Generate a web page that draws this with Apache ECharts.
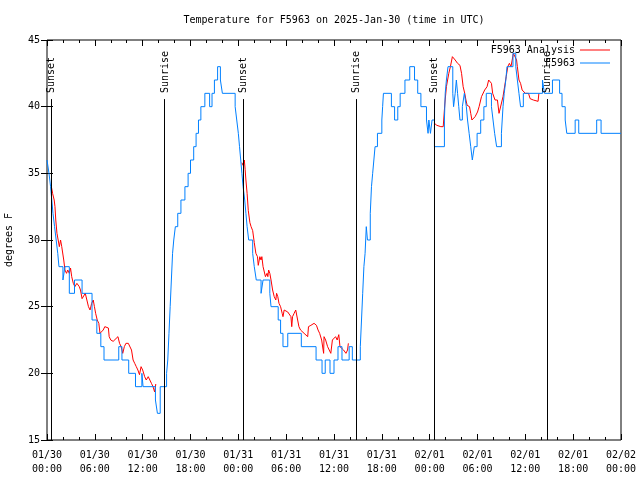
<!DOCTYPE html>
<html>
<head>
<meta charset="utf-8">
<script src="https://cdn.jsdelivr.net/npm/echarts@6/dist/echarts.min.js"></script>
<style>html,body{margin:0;padding:0;background:#fff}#c{width:640px;height:480px}</style>
</head>
<body>
<div id="c"></div>
<script>
// hours since 2025-01-30 00:00 UTC
const xTickLabels = ['01/30\n00:00','01/30\n06:00','01/30\n12:00','01/30\n18:00','01/31\n00:00','01/31\n06:00','01/31\n12:00','01/31\n18:00','02/01\n00:00','02/01\n06:00','02/01\n12:00','02/01\n18:00','02/02\n00:00'];
const yTicks = [15,20,25,30,35,40,45];

// F5963 observations (value changes at given hour)
const obsHours = [0,0.25,0.45,0.6,0.75,0.95,1.15,1.35,1.5,2.0,2.25,2.8,3.45,4.4,5.65,6.25,6.75,7.15,9.0,9.4,10.25,11.1,11.9,12.05,13.6,13.85,14.2,15.0,15.15,15.3,15.45,15.6,15.75,15.9,16.1,16.4,16.8,17.3,17.7,18.0,18.4,18.7,19.0,19.3,19.8,20.4,20.7,21.0,21.4,21.75,22.0,23.6,23.8,24.0,24.15,24.3,24.45,24.6,24.8,24.95,25.1,25.3,25.8,26.0,26.25,26.85,27.1,27.95,28.1,29.0,29.3,29.6,30.2,31.9,33.75,34.5,34.9,35.5,36.0,36.5,37.0,37.9,38.3,39.3,39.45,39.6,39.75,39.9,40.05,40.2,40.55,40.7,40.85,41.0,41.15,41.45,42.0,42.1,42.2,43.2,43.6,44.0,44.3,44.9,45.5,46.1,46.5,46.9,47.6,47.8,47.9,48.1,48.3,48.6,49.85,49.95,50.1,50.3,50.9,51.0,51.2,51.35,51.5,51.65,51.8,52.1,52.35,52.6,52.75,52.95,53.15,53.35,53.6,53.95,54.4,54.8,55.1,55.75,55.95,56.15,56.4,57.0,57.1,57.2,57.35,57.55,57.7,58.45,58.8,59.0,59.2,59.4,59.75,62.15,62.4,63.4,64.3,64.6,65.0,65.2,66.25,66.7,68.95,69.5,72];
const obsTemps = [36,35,34,33,32,31,30,29,28,27,28,26,27,26,24,23,22,21,22,21,20,19,20,19,18,17,19,20,21,23,25,27,29,30,31,32,33,34,35,36,37,38,39,40,41,40,41,42,43,42,41,40,39,38,37,36,35,34,33,32,31,30,29,28,27,26,27,26,25,24,23,22,23,22,21,20,21,20,21,22,21,22,21,22,24,26,28,29,31,30,32,34,35,36,37,38,39,40,41,40,39,40,41,42,43,42,41,40,39,38,39,38,39,37,39,41,42,43,41,40,41,42,41,40,39,40,41,40,39,38,37,36,37,38,39,40,41,40,39,38,37,38,39,40,41,42,43,44,43,42,41,40,41,42,41,42,41,40,39,38,39,38,39,38,38];

// F5963 Analysis, three segments
const anaHours1 = [0.55,0.7,0.9,1.0,1.1,1.25,1.4,1.55,1.7,1.85,2.1,2.25,2.45,2.6,2.8,2.95,3.1,3.3,3.5,3.75,3.9,4.05,4.2,4.4,4.6,4.8,5.0,5.2,5.4,5.6,5.8,5.95,6.1,6.3,6.5,6.65,6.85,7.05,7.25,7.5,7.7,7.8,8.0,8.3,8.55,8.9,9.1,9.3,9.5,9.7,9.9,10.2,10.4,10.6,10.8,11.0,11.2,11.4,11.6,11.8,12.0,12.25,12.45,12.7,12.9,13.1,13.3,13.5,13.65];
const anaTemps1 = [34,33.5,33,32.5,31.5,30.5,30,29.5,30,29.5,28.5,27.75,27.5,27.75,27.5,27.9,27.25,26.75,26.5,26.75,26.75,26.5,26.25,25.6,25.5,26,25.5,25,24.75,25.25,25.5,25,24.5,24,23.75,23,23,23.25,23.5,23.5,23.4,22.75,22.5,22.4,22.25,22.75,22.25,22,21.5,22,22.25,22.25,22.1,21.75,21,20.75,20.5,20.25,19.9,20.5,20.25,19.75,19.5,19.75,19.5,19.25,19,18.6,19.2];
const anaHours2 = [24.45,24.6,24.75,24.85,24.95,25.1,25.25,25.45,25.6,25.8,26.0,26.2,26.4,26.5,26.7,26.85,26.95,27.1,27.4,27.6,27.7,27.8,27.95,28.1,28.3,28.5,28.7,28.8,28.95,29.1,29.3,29.5,29.6,29.75,30.0,30.2,30.4,30.6,30.7,30.8,31.0,31.2,31.4,31.6,31.8,32.0,32.25,32.5,32.7,32.8,33.1,33.5,33.8,34.0,34.2,34.45,34.7,34.75,34.95,35.2,35.4,35.6,35.8,36.0,36.2,36.4,36.6,36.75,36.95,37.2,37.4,37.5,37.7,37.8];
const anaTemps2 = [35.8,35.6,36,35.3,34.5,33.5,32.2,31.3,31,30.7,29.8,29,28.75,28.1,28.75,28.5,28.75,28,27.25,27.5,27.25,27.75,27.5,27,26.25,25.75,25.5,26,25.75,25.25,25,24.5,24.25,24.75,24.75,24.6,24.5,24.25,23.5,24.25,24.5,24.75,24.9,23.5,23.25,23.1,23,22.9,22.75,23.5,23.6,23.75,23.6,23.25,23,22.5,21.5,22.75,22.5,22,21.75,21.5,22.5,22.6,22.75,22.5,22.9,22,22,21.75,21.6,21.5,21.75,22.25];
const anaHours3 = [48.6,48.9,49.4,49.7,49.9,50.1,50.4,50.6,50.85,51.0,51.2,51.4,51.5,51.6,51.8,52.0,52.2,52.4,52.55,52.7,53.0,53.15,53.3,53.5,53.7,54.0,54.2,54.5,54.9,55.2,55.4,55.6,55.75,55.9,56.2,56.5,56.7,56.9,57.2,57.6,57.8,58.0,58.2,58.35,58.5,58.7,58.9,59.0,59.2,59.4,59.6,60.0,60.4,60.6,60.8,61.0,61.6,61.7];
const anaTemps3 = [38.75,38.6,38.5,38.5,40.2,41.5,42.5,43,43.75,43.6,43.5,43.5,43.25,43.4,43.1,42.5,41.5,41,40.5,40.1,40,39.5,39,39,39.25,39.6,40,40.75,41.25,41.5,42,42,41.75,41,40.5,40.5,39.5,39.5,40.75,42.25,43,43.25,43,43.5,44,44,43.5,43,42,41.75,41.25,41,41,40.6,40.6,40.5,40.4,41];

// Sunrise / sunset events
const eventHours = [0.55,14.77,24.57,38.75,48.6,62.73];
const eventNames = ['Sunset','Sunrise','Sunset','Sunrise','Sunset','Sunrise'];

const FONT = 'DejaVu Sans Mono';
const zip = (a,b) => a.map((v,i)=>[v,b[i]]);
const anaData = [].concat(zip(anaHours1,anaTemps1), [[20,'-']], zip(anaHours2,anaTemps2), [[44,'-']], zip(anaHours3,anaTemps3));
const obsData = zip(obsHours, obsTemps);
const lineTop = 40.57;

const chart = echarts.init(document.getElementById('c'), null, {renderer:'canvas'});
const tickCommon = {show:true, inside:true, length:6, lineStyle:{color:'#000',width:1}};
const xBase = {type:'value', min:0, max:72, interval:6,
  axisLine:{show:false}, splitLine:{show:false},
  axisTick:tickCommon,
  minorTick:{show:true, splitNumber:3, length:3, lineStyle:{color:'#000',width:1}},
  minorSplitLine:{show:false}};
const yBase = {type:'value', min:15, max:45, interval:5,
  axisLine:{show:false}, splitLine:{show:false}, axisTick:tickCommon};

chart.setOption({
  animation:false,
  backgroundColor:'#fff',
  title:{text:'Temperature for F5963 on 2025-Jan-30 (time in UTC)', left:329, textAlign:'center', top:10,
    textStyle:{fontFamily:FONT, fontSize:10, fontWeight:'normal', color:'#000'}},
  grid:{left:47, right:19, top:40, bottom:40, show:true, borderColor:'#000', borderWidth:1,
    backgroundColor:'transparent', containLabel:false, outerBoundsMode:'none'},
  legend:[
    {data:['F5963 Analysis'], right:25, top:40, orient:'vertical', align:'right', icon:'rect', itemWidth:30, itemHeight:1,
     textStyle:{fontFamily:FONT, fontSize:10, color:'#000'}},
    {data:['F5963'], right:25, top:53, orient:'vertical', align:'right', icon:'rect', itemWidth:30, itemHeight:1,
     textStyle:{fontFamily:FONT, fontSize:10, color:'#000'}}
  ],
  xAxis:[
    Object.assign({}, xBase, {position:'bottom',
      axisLabel:{show:true, margin:8, fontFamily:FONT, fontSize:10, color:'#000', lineHeight:14,
        formatter:(v)=>xTickLabels[Math.round(v/6)]}}),
    Object.assign({}, xBase, {position:'top', axisLabel:{show:false}})
  ],
  yAxis:[
    Object.assign({}, yBase, {position:'left', name:'degrees F', nameLocation:'middle', nameGap:33,
      nameTextStyle:{fontFamily:FONT, fontSize:10, color:'#000'},
      axisLabel:{show:true, margin:7, fontFamily:FONT, fontSize:10, color:'#000',
        formatter:(v)=> yTicks.indexOf(v)>=0 ? String(v) : ''}}),
    Object.assign({}, yBase, {position:'right', axisLabel:{show:false}})
  ],
  series:[
    {name:'F5963 Analysis', type:'line', data:anaData, showSymbol:false, symbol:'none', connectNulls:false,
     lineStyle:{color:'#ff0000', width:1}, itemStyle:{color:'#ff0000'}, z:2},
    {name:'F5963', type:'line', data:obsData, step:'end', showSymbol:false, symbol:'none',
     lineStyle:{color:'#0080ff', width:1}, itemStyle:{color:'#0080ff'}, z:3,
     markLine:{silent:true, symbol:['none','none'], label:{show:false},
       lineStyle:{color:'#000', width:1, type:'solid'},
       data: eventHours.map(t=>[{coord:[t,lineTop]},{coord:[t,15]}])}}
  ]
});

const g = eventHours.map((t,i)=>{
  const p = chart.convertToPixel({gridIndex:0}, [t, lineTop]);
  return {type:'text', x:Math.round(p[0])+0.5, y:p[1]-6, rotation:Math.PI/2, z:10,
    style:{text:eventNames[i], fill:'#000', font:'10px "'+FONT+'"', align:'left', verticalAlign:'middle'}};
});
chart.setOption({graphic:g});
</script>
</body>
</html>
